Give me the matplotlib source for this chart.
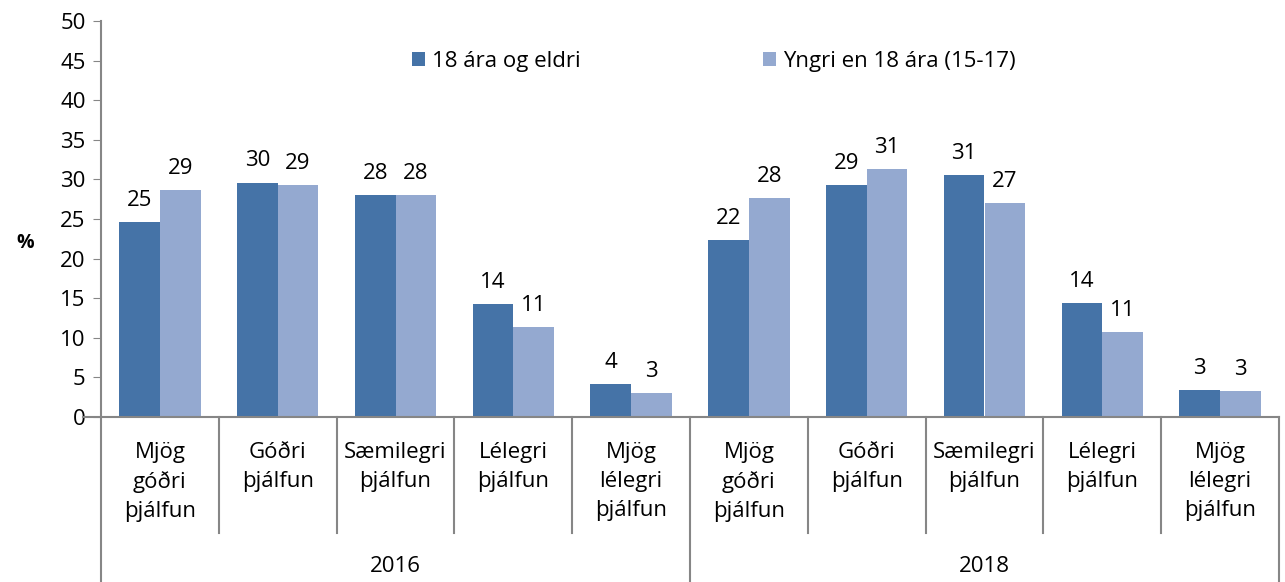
import numpy as np
import matplotlib
matplotlib.use("Agg")
from matplotlib import pyplot as plt
import matplotlib.transforms as mtransforms

plt.rcParams['font.family'] = ['Open Sans', 'DejaVu Sans']

# data
years = ['2016', '2018']
categories = ['Mjög\ngóðri\nþjálfun', 'Góðri\nþjálfun', 'Sæmilegri\nþjálfun',
              'Lélegri\nþjálfun', 'Mjög\nlélegri\nþjálfun']
series_names = ['18 ára og eldri', 'Yngri en 18 ára (15-17)']
adults = [24.6, 29.6, 28.0, 14.3, 4.2, 22.3, 29.3, 30.6, 14.4, 3.4]
youth = [28.6, 29.3, 28.0, 11.4, 3.0, 27.7, 31.3, 27.0, 10.7, 3.3]

dark = '#4573a7'
light = '#94a9d0'
grey = '#868686'
fs = 16

n = len(adults)
x = np.arange(n)
w = 0.345

fig = plt.figure(figsize=(12.85, 5.82), dpi=100)
ax = fig.add_axes([101/1285, (582-417)/582, (1279-101)/1285, (417-21)/582])

b1 = ax.bar(x - w/2, adults, w, color=dark, label=series_names[0])
b2 = ax.bar(x + w/2, youth, w, color=light, label=series_names[1])

# value labels
for bars in (b1, b2):
    for r in bars:
        v = r.get_height()
        ax.annotate(str(int(round(v))), (r.get_x() + r.get_width()/2, v),
                    xytext=(0, 8), textcoords='offset points',
                    ha='center', va='bottom', fontsize=fs)

ax.set_xlim(-0.5, n - 0.5)
ax.set_ylim(0, 50)
ax.set_yticks(range(0, 51, 5))
ax.tick_params(axis='y', direction='out', length=6, color=grey, labelsize=fs, pad=5)
ax.set_xticks([])
for s in ['top', 'right']:
    ax.spines[s].set_visible(False)
for s in ['left', 'bottom']:
    ax.spines[s].set_color(grey)
    ax.spines[s].set_linewidth(1.5)
ax.spines['bottom'].set_bounds(-0.5 - 0.15, n - 0.5)

fig.text(25/1285, 1 - 243/582, '%', fontsize=14, fontweight='bold',
         ha='center', va='center')

# category table below the axis
trans = mtransforms.blended_transform_factory(ax.transData, ax.transAxes)
h = 396.0
for i in range(n + 1):
    xi = i - 0.5
    if i % 5 == 0:
        y_end = -(582 - 417) / h
    else:
        y_end = -(533 - 417) / h
    ax.plot([xi, xi], [0, y_end], color=grey, lw=1.5, transform=trans, clip_on=False)

for i in range(n):
    ax.text(i, -(442 - 417) / h, categories[i % 5], transform=trans,
            ha='center', va='top', fontsize=fs, linespacing=1.5)

for j, yr in enumerate(years):
    ax.text(j * 5 + 2, -(566 - 417) / h, yr, transform=trans,
            ha='center', va='center', fontsize=fs)

ax.legend(loc='upper center', bbox_to_anchor=(0.52, 0.975), ncol=2, frameon=False,
          fontsize=fs, handlelength=0.6, handleheight=0.6, handletextpad=0.3,
          columnspacing=8.2)

fig.savefig('out.png', dpi=100)
